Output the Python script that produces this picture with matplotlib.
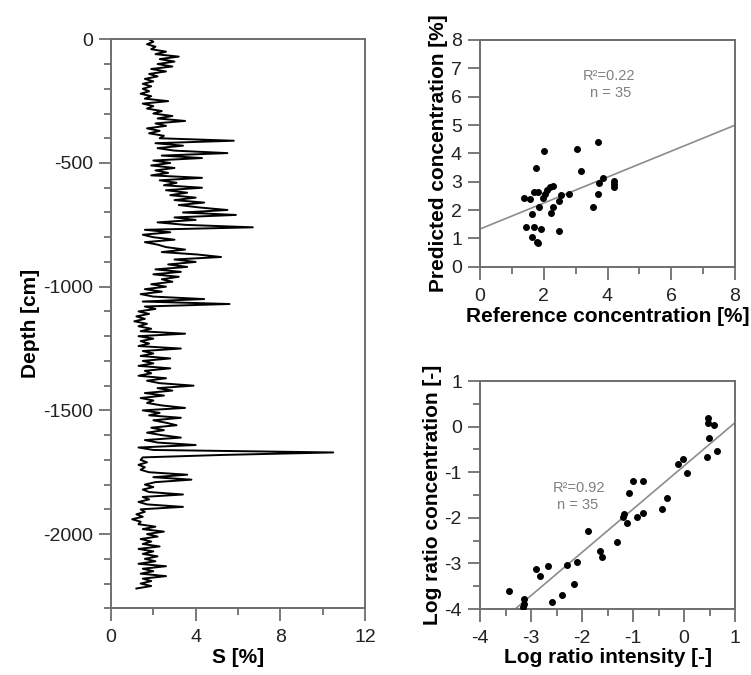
import numpy as np
import matplotlib
matplotlib.use("Agg")
import matplotlib.pyplot as plt
from matplotlib.ticker import MultipleLocator

plt.rcParams['font.family'] = ['Liberation Sans', 'DejaVu Sans']
plt.rcParams['axes.unicode_minus'] = False

# ---- depth profile (S % every 10 cm, from 0 down to -2220 cm) ----
depth_step = 10
s_profile = [
    1.8, 2.0, 1.7, 2.1, 1.9, 2.6, 2.1, 3.2, 2.3, 3.0,
    2.2, 2.9, 1.9, 2.6, 1.8, 2.2, 1.6, 2.0, 1.5, 1.9,
    1.5, 1.8, 1.4, 1.9, 1.6, 2.7, 1.5, 2.0, 1.7, 2.4,
    2.0, 2.9, 2.2, 3.5, 2.1, 2.6, 1.7, 2.3, 1.8, 2.5,
    2.3, 5.8, 2.1, 3.4, 2.2, 3.0, 5.5, 2.4, 4.3, 2.0,
    2.8, 1.9, 3.0, 2.1, 2.7, 1.9, 4.3, 2.3, 3.1, 2.5,
    4.3, 2.6, 3.6, 2.8, 4.0, 3.0, 4.4, 3.2, 4.2, 5.5,
    3.4, 5.9, 3.0, 4.0, 2.2, 3.5, 6.7, 1.6, 2.8, 1.5,
    2.0, 3.0, 1.6, 2.2, 2.6, 3.5, 2.4, 4.1, 5.2, 3.0,
    4.0, 2.7, 3.6, 2.1, 3.3, 2.0, 3.2, 2.4, 2.9, 1.9,
    2.6, 1.6, 2.4, 1.4, 2.0, 4.4, 1.5, 5.6, 1.6, 2.1,
    1.3, 1.8, 1.2, 1.6, 1.1, 1.7, 1.3, 1.9, 1.4, 3.5,
    1.3, 2.0, 1.4, 1.8, 1.3, 3.3, 1.5, 2.0, 1.4, 2.8,
    1.5, 2.0, 1.3, 2.8, 1.6, 1.9, 1.3, 2.6, 1.7, 2.3,
    3.9, 2.2, 2.9, 1.6, 2.5, 1.4, 2.0, 1.7, 2.4, 3.5,
    1.5, 2.3, 1.8, 3.3, 2.0, 2.6, 3.1, 1.9, 2.5, 1.7,
    2.4, 3.3, 1.6, 2.2, 4.0, 1.3, 2.0, 10.5, 5.3, 1.5,
    1.4, 1.7, 1.3, 1.6, 1.4, 1.8, 3.6, 2.0, 3.8, 2.1,
    1.6, 2.0, 1.5, 1.8, 3.4, 1.5, 1.8, 1.3, 1.7, 3.4,
    1.4, 1.6, 1.2, 1.5, 1.0, 1.4, 1.3, 2.1, 1.5, 2.5,
    1.7, 2.2, 1.4, 1.9, 1.5, 2.3, 1.3, 2.0, 1.5, 2.2,
    1.6, 2.1, 1.3, 2.6, 1.5, 2.0, 1.4, 2.6, 1.5, 1.9,
    1.4, 1.9, 1.2,
]
depth = -np.arange(len(s_profile)) * depth_step

# ---- calibration scatter (top right) ----
ref_conc = [3.71, 2.01, 3.05, 1.76, 3.17, 3.87, 3.74, 4.20, 4.20, 4.20,
            3.71, 3.56, 2.80, 2.53, 2.49, 2.30, 2.22, 2.48, 2.28, 2.20,
            2.09, 2.04, 1.99, 1.83, 1.70, 1.38, 1.57, 1.85, 1.62, 1.43,
            1.69, 1.91, 1.64, 1.78, 1.83]
pred_conc = [4.41, 4.10, 4.15, 3.50, 3.38, 3.14, 2.94, 3.04, 2.92, 2.81,
             2.57, 2.11, 2.57, 2.52, 2.32, 2.12, 1.91, 1.26, 2.86, 2.82,
             2.71, 2.56, 2.44, 2.63, 2.63, 2.42, 2.39, 2.10, 1.87, 1.39,
             1.39, 1.32, 1.06, 0.87, 0.85]
fit1_intercept, fit1_slope = 1.33, 0.458

# ---- log-ratio scatter (bottom right) ----
log_int = [0.465, 0.477, 0.594, 0.497, 0.653, 0.451, -0.013, -0.11, 0.065, -0.994,
           -0.81, -1.07, -0.34, -0.44, -1.18, -1.20, -0.93, -0.80, -1.12, -1.32,
           -1.88, -1.65, -1.61, -2.09, -2.30, -2.16, -2.66, -2.91, -2.82, -2.39,
           -2.58, -3.43, -3.13, -3.13, -3.16]
log_conc = [0.18, 0.086, 0.035, -0.257, -0.535, -0.675, -0.70, -0.83, -1.01, -1.19,
            -1.19, -1.45, -1.57, -1.81, -1.92, -1.99, -1.98, -1.89, -2.12, -2.54,
            -2.29, -2.72, -2.87, -2.98, -3.03, -3.46, -3.06, -3.12, -3.27, -3.69,
            -3.84, -3.61, -3.77, -3.90, -3.95]
fit2_intercept, fit2_slope = -0.862, 0.948

spine_col = '#6e6e6e'
tick_fs = 14
lab_fs = 15

fig = plt.figure(figsize=(7.51, 6.75), dpi=100)

def style(ax):
    for sp in ax.spines.values():
        sp.set_color(spine_col)
        sp.set_linewidth(1.4)
    ax.tick_params(which='major', direction='out', length=9, width=1.3,
                   color=spine_col, labelsize=tick_fs, labelcolor='#222222')
    ax.tick_params(axis='x', which='major', pad=6)
    ax.tick_params(axis='y', which='major', pad=4)
    ax.tick_params(which='minor', direction='out', length=5, width=1.3,
                   color=spine_col)

# Left: depth profile
ax1 = fig.add_axes([111/751, 1-608.3/675, (365-111)/751, (608.3-39.3)/675])
ax1.plot(s_profile, depth, color='black', lw=1.4)
ax1.set_xlim(0, 12)
ax1.set_ylim(-2300, 0)
ax1.xaxis.set_major_locator(MultipleLocator(4))
ax1.xaxis.set_minor_locator(MultipleLocator(2))
ax1.yaxis.set_major_locator(MultipleLocator(500))
ax1.yaxis.set_minor_locator(MultipleLocator(100))
style(ax1)
ax1.set_xlabel('S [%]', fontsize=lab_fs, fontweight='bold', labelpad=1)
ax1.set_ylabel('Depth [cm]', fontsize=lab_fs, fontweight='bold', labelpad=2)

# Top right
ax2 = fig.add_axes([480/751, 1-266.7/675, 255/751, (266.7-40)/675])
ax2.scatter(ref_conc, pred_conc, s=16, color='black', marker='o', zorder=3)
xf = np.array([0, 8])
ax2.plot(xf, fit1_intercept + fit1_slope * xf, color='#8c8c8c', lw=1.2)
ax2.set_xlim(0, 8)
ax2.set_ylim(0, 8)
ax2.xaxis.set_major_locator(MultipleLocator(2))
ax2.xaxis.set_minor_locator(MultipleLocator(1))
ax2.yaxis.set_major_locator(MultipleLocator(1))
style(ax2)
ax2.set_xlabel('Reference concentration [%]', fontsize=lab_fs, fontweight='bold', labelpad=2)
ax2.set_ylabel('Predicted concentration [%]', fontsize=lab_fs, fontweight='bold', labelpad=2)
ax2.text(4.05, 6.73, 'R²=0.22', color='#808080', fontsize=10.5, ha='center', va='center')
ax2.text(4.1, 6.13, 'n = 35', color='#808080', fontsize=10.5, ha='center', va='center')

# Bottom right
ax3 = fig.add_axes([480/751, 1-609/675, 255/751, (609-381)/675])
ax3.scatter(log_int, log_conc, s=16, color='black', marker='o', zorder=3)
x0 = (-4 - fit2_intercept) / fit2_slope
xf2 = np.array([x0, 1])
ax3.plot(xf2, fit2_intercept + fit2_slope * xf2, color='#8c8c8c', lw=1.2)
ax3.set_xlim(-4, 1)
ax3.set_ylim(-4, 1)
ax3.xaxis.set_major_locator(MultipleLocator(1))
ax3.xaxis.set_minor_locator(MultipleLocator(0.5))
ax3.yaxis.set_major_locator(MultipleLocator(1))
ax3.yaxis.set_minor_locator(MultipleLocator(0.5))
style(ax3)
ax3.set_xlabel('Log ratio intensity [-]', fontsize=lab_fs, fontweight='bold', labelpad=1)
ax3.set_ylabel('Log ratio concentration [-]', fontsize=lab_fs, fontweight='bold', labelpad=2)
ax3.text(-2.06, -1.35, 'R²=0.92', color='#808080', fontsize=10.5, ha='center', va='center')
ax3.text(-2.08, -1.72, 'n = 35', color='#808080', fontsize=10.5, ha='center', va='center')

fig.savefig('out.png', dpi=100)
